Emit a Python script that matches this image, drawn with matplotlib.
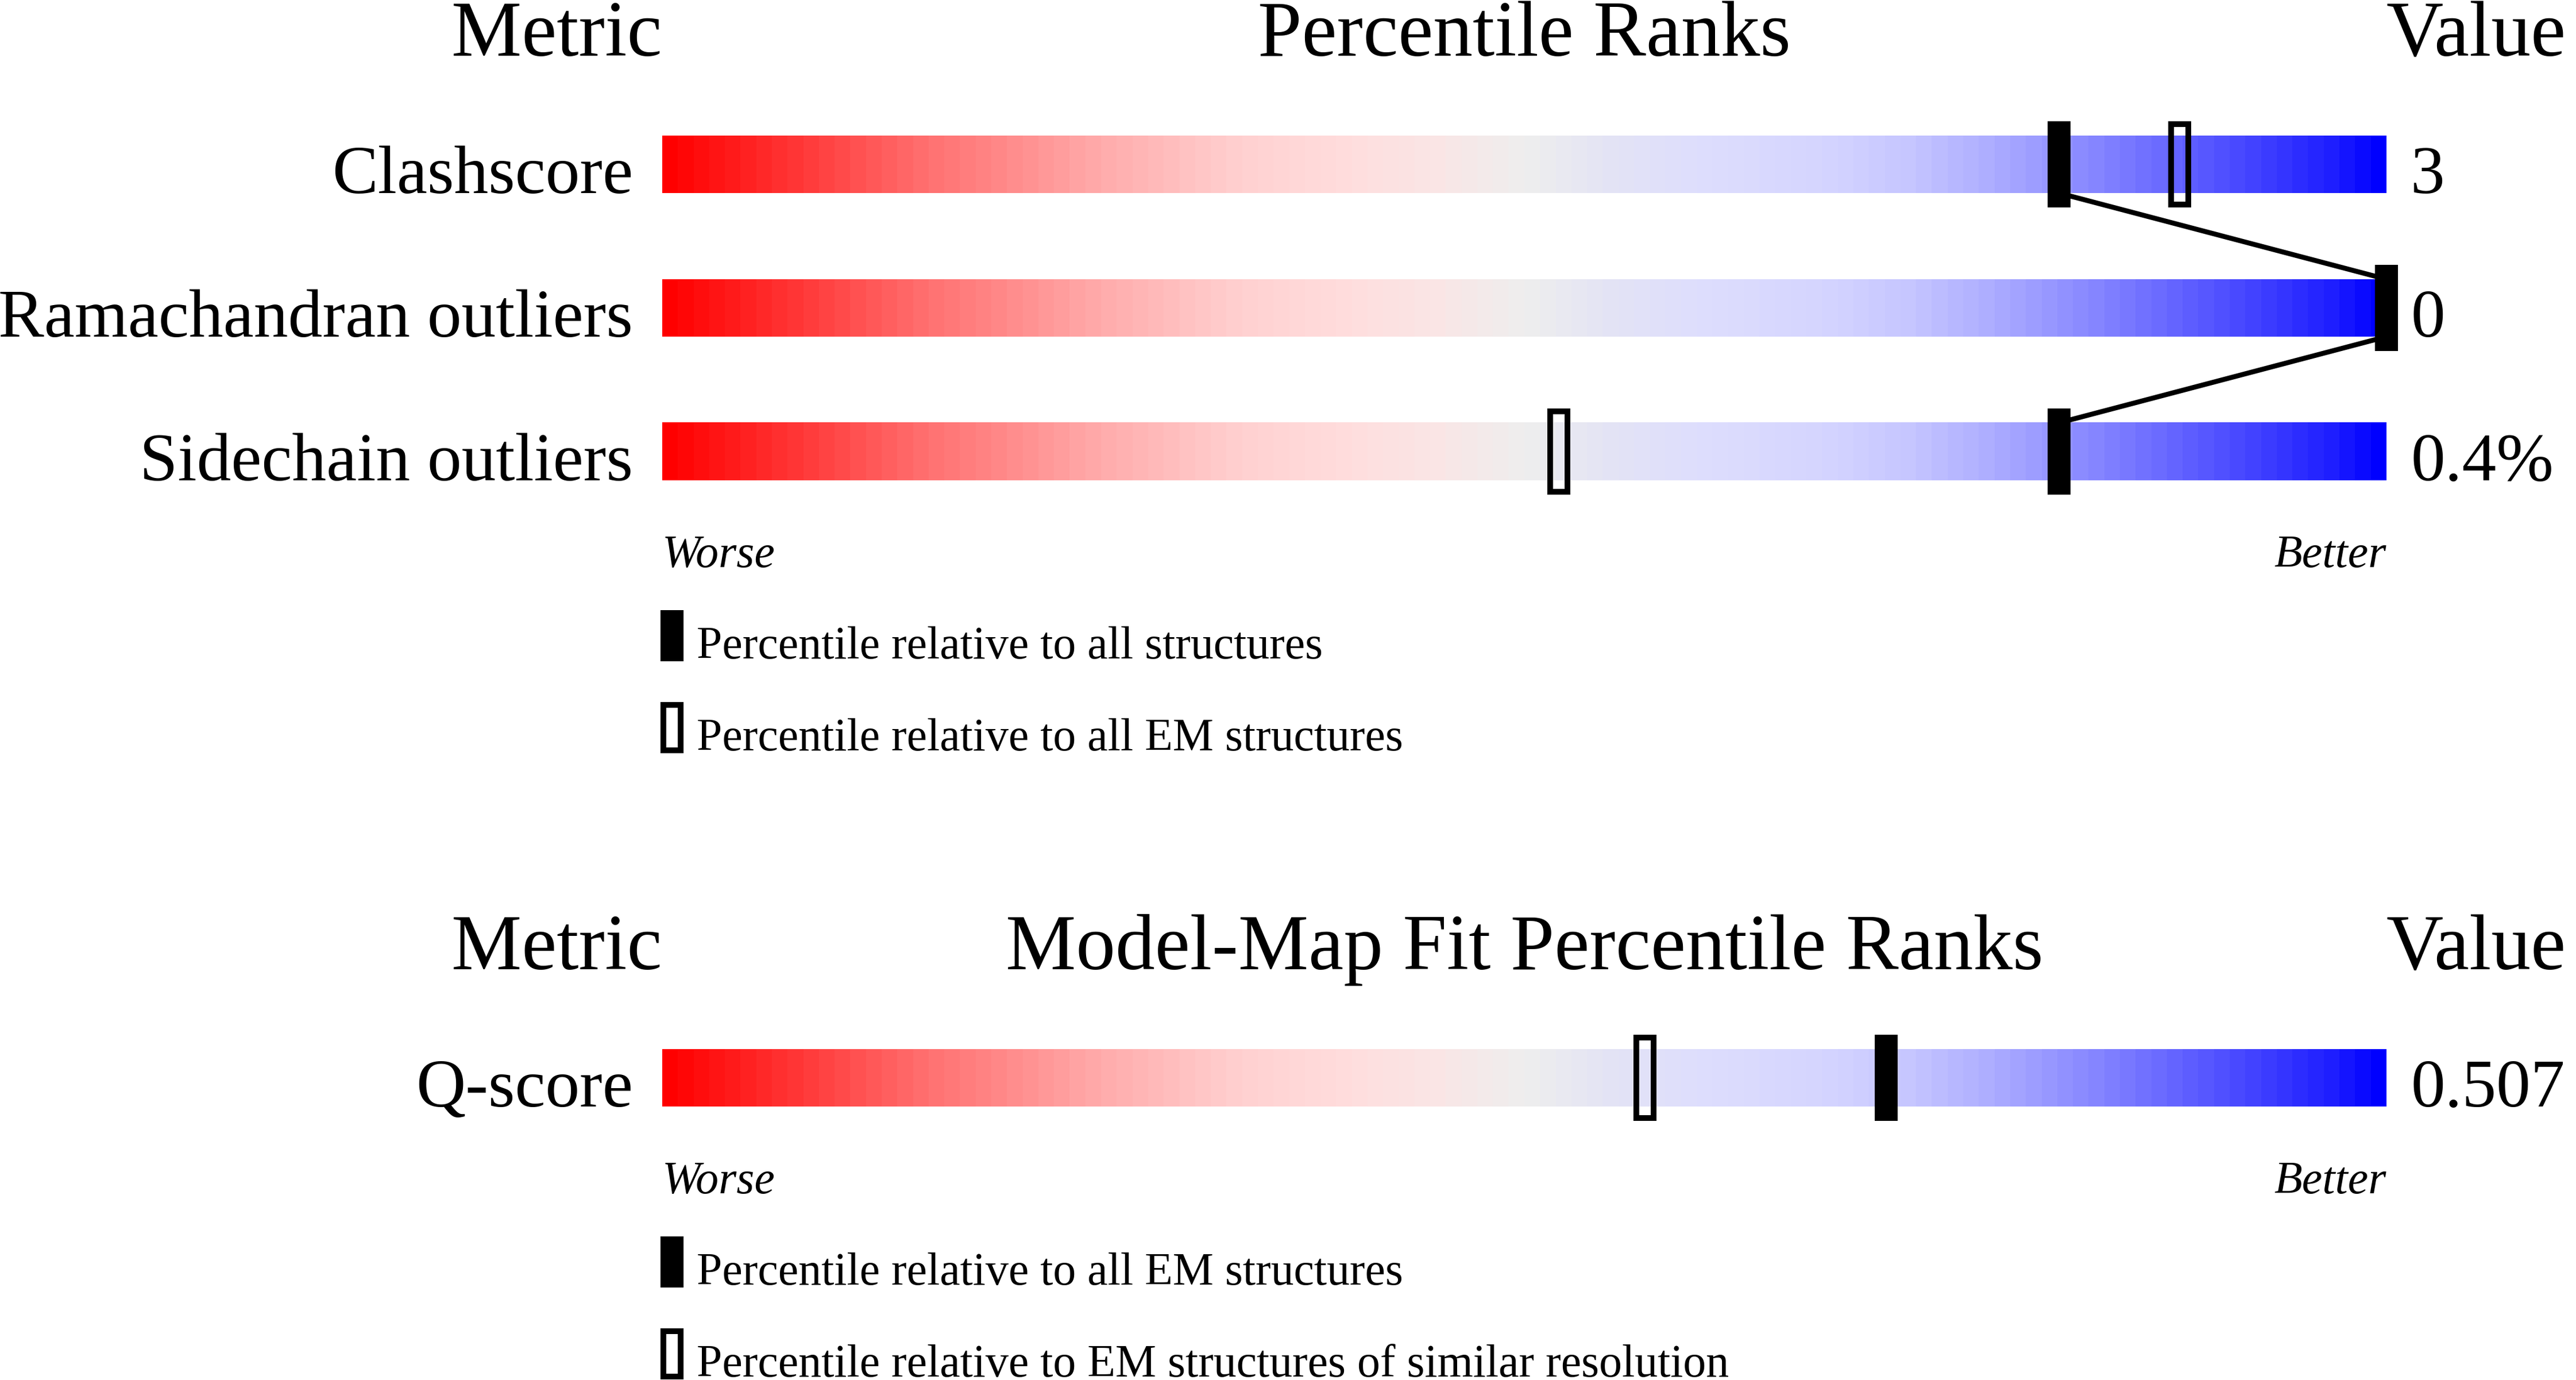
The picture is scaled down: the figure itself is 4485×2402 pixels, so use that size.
import matplotlib
matplotlib.use("Agg")
import matplotlib.pyplot as plt
import numpy as np
from matplotlib.colors import LinearSegmentedColormap
from matplotlib.patches import Rectangle

plt.rcParams["font.family"] = ["Liberation Serif", "DejaVu Serif"]

# --- data ---
metrics = ["Clashscore", "Ramachandran outliers", "Sidechain outliers"]
metric_values = ["3", "0", "0.4%"]
pct_all = [81, 100, 81]        # relative to all structures (filled)
pct_all_em = [88, 100, 52]     # relative to all EM structures (hollow)

fit_metrics = ["Q-score"]
fit_values = ["0.507"]
fit_pct_em = [71]              # relative to all EM structures (filled)
fit_pct_similar = [57]         # EM structures of similar resolution (hollow)

legend_top = ["Percentile relative to all structures",
              "Percentile relative to all EM structures"]
legend_bottom = ["Percentile relative to all EM structures",
                 "Percentile relative to EM structures of similar resolution"]

# gradient stops for the slider (position, rgb)
grad_pos = [0.0, 0.075, 0.15, 0.2, 0.25, 0.333, 0.4, 0.45, 0.5,
            0.55, 0.6, 0.675, 0.725, 0.775, 0.825, 0.875, 0.925, 0.975, 1.0]
grad_rgb = [(255, 0, 0), (255, 55, 55), (255, 112, 112), (255, 140, 140),
            (255, 170, 170), (255, 208, 208), (255, 222, 222), (250, 230, 230),
            (238, 238, 238), (228, 228, 245), (222, 222, 253), (213, 213, 255),
            (198, 198, 255), (172, 172, 255), (140, 140, 255), (105, 105, 255),
            (68, 68, 255), (28, 28, 255), (0, 0, 255)]

W, H = 4485, 2402
DPI = 100
BAR_L, BAR_R = 1153, 4155
ROW = 250.0                     # px per row unit
PX = 100.0 / (BAR_R - BAR_L)    # data units per px in x

cmap = LinearSegmentedColormap.from_list(
    "slider", [(p, tuple(c / 255 for c in rgb)) for p, rgb in zip(grad_pos, grad_rgb)], N=110)

fig = plt.figure(figsize=(W / DPI, H / DPI), dpi=DPI)
fig.patch.set_facecolor("white")

LABEL_FS = 86
HEAD_FS = 99
SMALL_FS = 57.5


def make_axes(top_px, n_rows):
    bottom_px = top_px + n_rows * ROW
    ax = fig.add_axes([BAR_L / W, 1 - bottom_px / H, (BAR_R - BAR_L) / W, n_rows * ROW / H])
    ax.set_xlim(0, 100)
    ax.set_ylim(n_rows - 0.5, -0.5)
    ax.axis("off")
    return ax


def draw_panel(ax, title, names, vals, filled, hollow, legend_texts):
    n = len(names)
    strip = np.linspace(0, 1, 110).reshape(1, -1)
    for i in range(n):
        ax.imshow(strip, cmap=cmap, aspect="auto", extent=(0, 100, i + 0.2, i - 0.2),
                  interpolation="nearest", zorder=1)
        ax.text(-1.7, i + 0.2, names[i], ha="right", va="baseline", fontsize=LABEL_FS)
        ax.text(101.4, i + 0.2, vals[i], ha="left", va="baseline", fontsize=LABEL_FS)

    # connecting line between filled markers
    for i in range(n - 1):
        ax.plot([filled[i], filled[i + 1]], [i + 0.2, i + 0.8], color="black",
                lw=6.2, solid_capstyle="butt", zorder=2, clip_on=False)

    mw = 40 * PX
    for i in range(n):
        ax.add_patch(Rectangle((hollow[i] - 30 * PX / 2, i - 0.28), 30 * PX, 0.56,
                               fill=False, edgecolor="black", lw=7.2, zorder=3, clip_on=False))
        ax.add_patch(Rectangle((filled[i] - mw / 2, i - 0.3), mw, 0.6,
                               facecolor="black", edgecolor="none", zorder=4, clip_on=False))

    # headers
    hy = -0.5 - 64 / ROW
    ax.text(0, hy, "Metric", ha="right", va="baseline", fontsize=HEAD_FS)
    ax.text(50, hy, title, ha="center", va="baseline", fontsize=HEAD_FS)
    ax.text(100, hy, "Value", ha="left", va="baseline", fontsize=HEAD_FS)

    # worse / better
    last = n - 1 + 0.2
    ax.text(0, last + 151 / ROW, "Worse", ha="left", va="baseline",
            fontsize=SMALL_FS, style="italic")
    ax.text(100, last + 151 / ROW, "Better", ha="right", va="baseline",
            fontsize=SMALL_FS, style="italic")

    # legend
    for k, txt in enumerate(legend_texts):
        y0 = last + (226 + 160 * k) / ROW
        if k == 0:
            ax.add_patch(Rectangle((-3 * PX, y0), mw, 89 / ROW, facecolor="black",
                                   edgecolor="none", clip_on=False))
        else:
            ax.add_patch(Rectangle((-3 * PX + 5 * PX, y0 + 5 / ROW), 30 * PX, 79 / ROW,
                                   fill=False, edgecolor="black", lw=7.2, clip_on=False))
        ax.text(60 * PX, last + (310 + 160 * k) / ROW, txt, ha="left", va="baseline",
                fontsize=SMALL_FS)


ax1 = make_axes(161, len(metrics))
draw_panel(ax1, "Percentile Ranks", metrics, metric_values, pct_all, pct_all_em, legend_top)

ax2 = make_axes(1751, len(fit_metrics))
draw_panel(ax2, "Model-Map Fit Percentile Ranks", fit_metrics, fit_values,
           fit_pct_em, fit_pct_similar, legend_bottom)

fig.savefig("out.png", dpi=DPI, facecolor="white")
